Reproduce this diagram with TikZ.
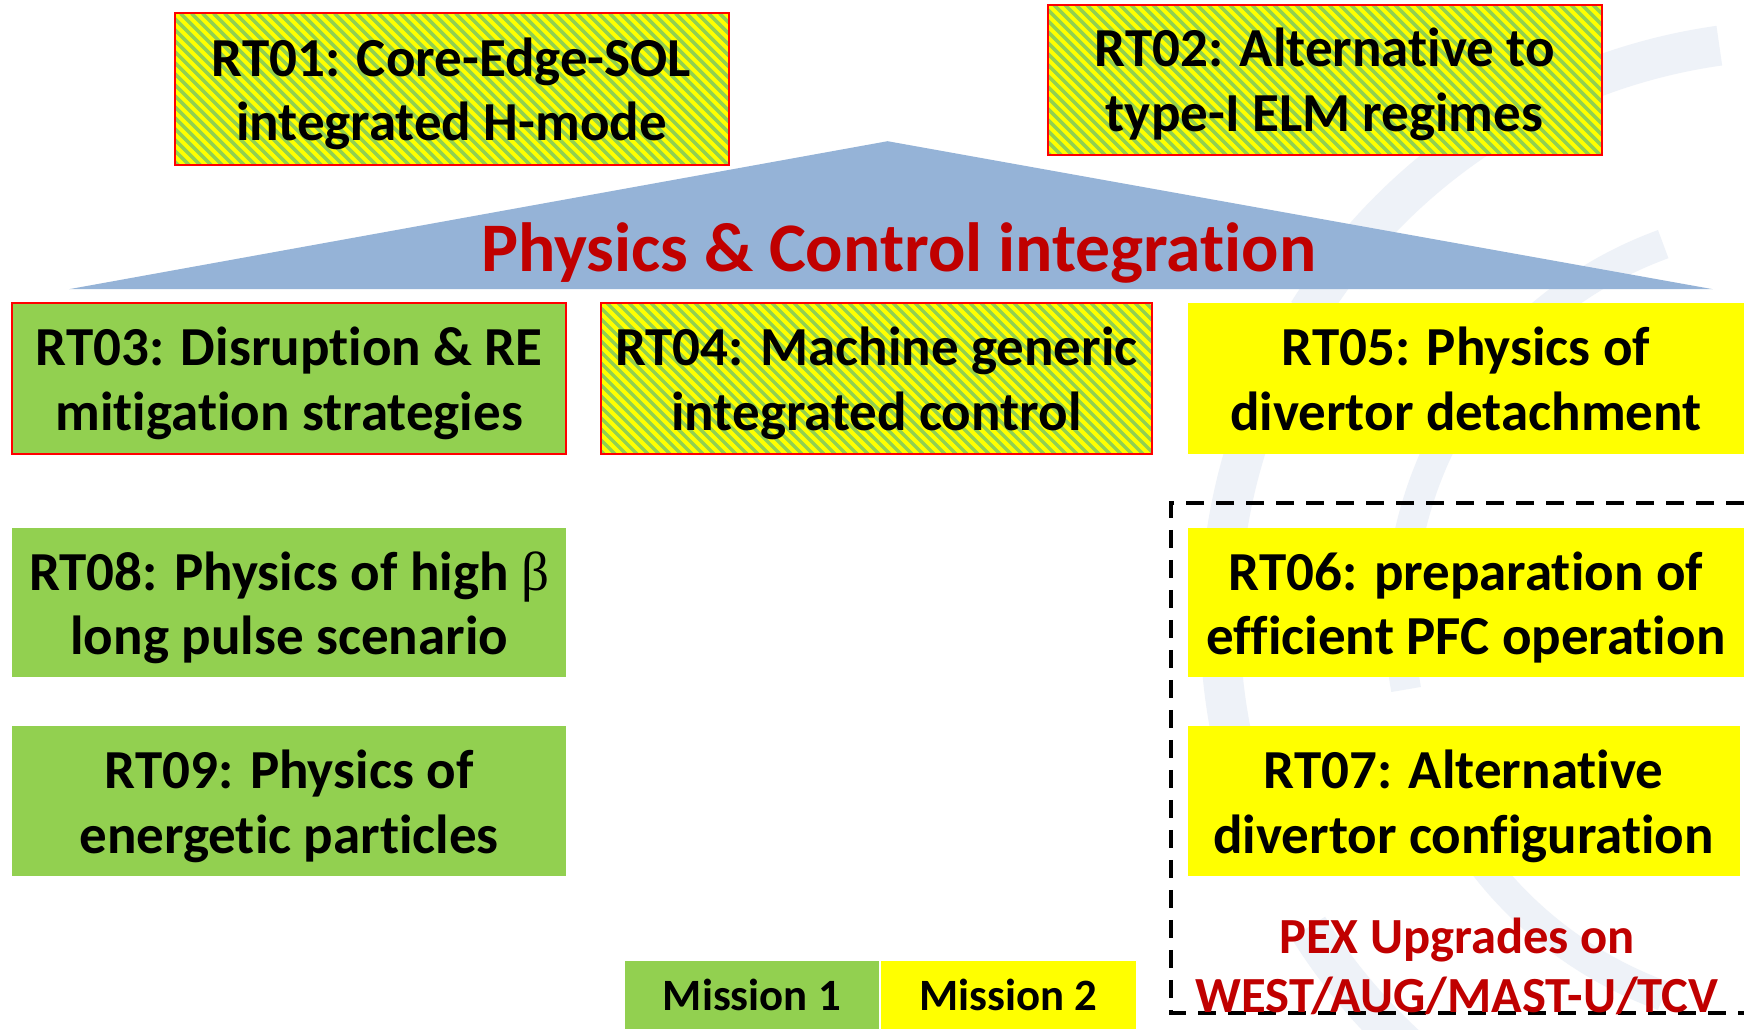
\documentclass[tikz,border=0pt]{standalone}
\usepackage{fontspec}
\setmainfont{Carlito}[Ligatures={NoCommon,NoContextual}]
\newfontfamily\betafont{Liberation Serif}
\definecolor{mgreen}{HTML}{92D050}
\definecolor{myellow}{HTML}{FFFF00}
\definecolor{mred}{HTML}{FF0000}
\definecolor{dred}{HTML}{C00000}
\definecolor{tri}{HTML}{95B3D7}
\definecolor{wm}{HTML}{EEF2F8}
\newcommand\tstrut{\rule[-6pt]{0pt}{31.5pt}}
\tikzset{
  rtbox/.style={align=center, inner sep=0pt, text=black,
    font=\bfseries\fontsize{27.5}{32.3}\selectfont},
  greenbox/.style={rtbox, fill=mgreen},
  yellowbox/.style={rtbox, fill=myellow},
  redline/.style={draw=mred, line width=1pt},
  hatchbox/.style={rtbox, redline, fill=myellow,
    path picture={\foreach \k in {0,...,70}
      \draw[mgreen, line width=1.75pt] (path picture bounding box.north west) ++(\k*11-170,0) -- ++(175,175);}},
  missionbox/.style={inner sep=0pt, text=black, font=\bfseries\fontsize{22.4}{27}\selectfont},
  wmarc/.style={draw=wm, line width=20pt},
  pextext/.style={anchor=base, text=dred, font=\bfseries\fontsize{25.3}{30}\selectfont, inner sep=0pt},
}
\begin{document}
\begin{tikzpicture}[x=0.5pt,y=-0.5pt]
\useasboundingbox (0,0) rectangle (1744,1029);
\fill[white] (0,0) rectangle (1744,1029);
% watermark
\begin{scope}
\clip (0,0) rectangle (1744,1029);
\coordinate (wc) at (1800,620);
\draw[wmarc] (wc) ++(262:580) arc[start angle=262, end angle=212, radius=580];
\draw[wmarc] (wc) ++(205:580) arc[start angle=205, end angle=155, radius=580];
\draw[wmarc] (wc) ++(148:580) arc[start angle=148, end angle=100, radius=580];
\draw[wmarc, line width=15pt] (wc) ++(250:400) arc[start angle=250, end angle=170, radius=400];
\draw[wmarc, line width=15pt] (wc) ++(160:400) arc[start angle=160, end angle=110, radius=400];
\end{scope}
% triangle
\coordinate (apex) at (887.6,141.2);
\coordinate (bl) at (69,289.2);
\coordinate (br) at (1712.8,289.2);
\fill[tri] (apex) -- (bl) -- (br) -- cycle;
\node[anchor=base, text=dred, font=\bfseries\fontsize{34.8}{40}\selectfont, inner sep=0pt] (title) at (898.7,271) {Physics \& Control integration};
% boxes
\node[hatchbox, minimum width=277pt, minimum height=75.6pt] (rt01) at (451.5,89) {RT01: Core-Edge-SOL\tstrut\\integrated H-mode\tstrut};
\node[hatchbox, minimum width=277pt, minimum height=75pt] (rt02) at (1324.6,79.5) {RT02: Alternative to\tstrut\\type-I ELM regimes\tstrut};
\node[greenbox, redline, minimum width=277pt, minimum height=75.6pt] (rt03) at (289.2,378.2) {RT03: Disruption \& RE\tstrut\\mitigation strategies\tstrut};
\node[hatchbox, minimum width=275.8pt, minimum height=75.6pt] (rt04) at (876.4,378.2) {RT04: Machine generic\tstrut\\integrated control\tstrut};
\node[yellowbox, minimum width=278pt, minimum height=75.6pt] (rt05) at (1465.9,378.2) {RT05: Physics of\tstrut\\divertor detachment\tstrut};
\node[greenbox, minimum width=277pt, minimum height=74.5pt] (rt08) at (289.2,602.8) {RT08: Physics of high {\betafont\mdseries β}\tstrut\\long pulse scenario\tstrut};
\node[greenbox, minimum width=277pt, minimum height=75pt] (rt09) at (289.2,801.3) {RT09: Physics of\tstrut\\energetic particles\tstrut};
\node[yellowbox, minimum width=278pt, minimum height=74.5pt] (rt06) at (1465.9,602.8) {RT06: preparation of\tstrut\\efficient PFC operation\tstrut};
\node[yellowbox, minimum width=275.9pt, minimum height=75pt] (rt07) at (1463.6,801.3) {RT07: Alternative\tstrut\\divertor configuration\tstrut};
% dashed frame
\coordinate (dtr) at (1744,502.7);
\coordinate (dtl) at (1171.2,502.7);
\coordinate (dbl) at (1171.2,1013);
\coordinate (dbr) at (1744,1013);
\draw[line width=1.9pt, dash pattern=on 9pt off 6pt] (dtr) -- (dtl) -- (dbl) -- (dbr);
\node[pextext] (pex1) at (1457,953) {PEX Upgrades on};
\node[pextext] (pex2) at (1457,1012) {WEST/AUG/MAST-U/TCV};
% legend
\node[missionbox, fill=mgreen, minimum width=126.8pt, minimum height=34pt] (m1) at (751.8,995) {Mission 1};
\node[missionbox, fill=myellow, minimum width=127.3pt, minimum height=34pt] (m2) at (1008.3,995) {Mission 2};
\end{tikzpicture}
\end{document}
